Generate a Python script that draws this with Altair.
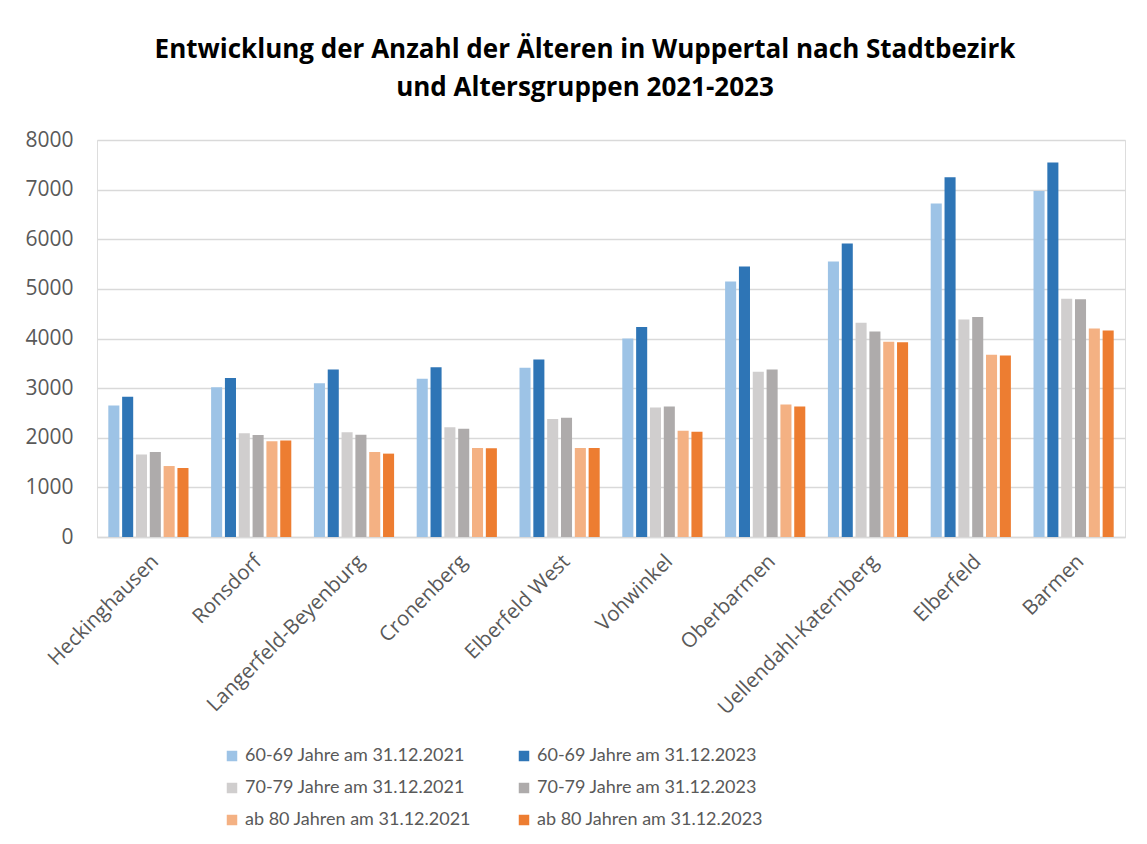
import altair as alt
import pandas as pd

districts = ["Heckinghausen", "Ronsdorf", "Langerfeld-Beyenburg", "Cronenberg",
             "Elberfeld West", "Vohwinkel", "Oberbarmen", "Uellendahl-Katernberg",
             "Elberfeld", "Barmen"]

series = ["60-69 Jahre am 31.12.2021", "60-69 Jahre am 31.12.2023",
          "70-79 Jahre am 31.12.2021", "70-79 Jahre am 31.12.2023",
          "ab 80 Jahren am 31.12.2021", "ab 80 Jahren am 31.12.2023"]

v60_2021 = [2650, 3020, 3100, 3190, 3410, 4000, 5150, 5550, 6720, 6970]
v60_2023 = [2825, 3205, 3375, 3420, 3575, 4230, 5450, 5915, 7250, 7545]
v70_2021 = [1660, 2090, 2110, 2210, 2380, 2610, 3330, 4315, 4385, 4800]
v70_2023 = [1715, 2055, 2060, 2180, 2405, 2630, 3375, 4140, 4435, 4790]
v80_2021 = [1430, 1930, 1715, 1795, 1795, 2140, 2670, 3935, 3675, 4200]
v80_2023 = [1390, 1945, 1680, 1790, 1795, 2120, 2630, 3925, 3655, 4160]

colors = ["#9DC3E6", "#2E75B6", "#D0CECE", "#AEABAB", "#F4B183", "#ED7D31"]

y_ticks = [0, 1000, 2000, 3000, 4000, 5000, 6000, 7000, 8000]

all_values = [v60_2021, v60_2023, v70_2021, v70_2023, v80_2021, v80_2023]
rows = []
for s, vals in zip(series, all_values):
    for d, v in zip(districts, vals):
        rows.append({"Stadtbezirk": d, "Serie": s, "Anzahl": v})
df = pd.DataFrame(rows)

label_font = "Open Sans"
legend_font = "Lato"

chart = alt.Chart(df).mark_bar().encode(
    x=alt.X("Stadtbezirk:N", sort=districts,
            scale=alt.Scale(paddingInner=0.22, paddingOuter=0.11),
            axis=alt.Axis(title=None, labelAngle=-45, labelFontSize=20.5,
                          labelFont=label_font, labelColor="#595959",
                          ticks=False, domainColor="#D9D9D9", domainWidth=1.5,
                          labelPadding=14, labelLimit=400)),
    xOffset=alt.XOffset("Serie:N", sort=series, scale=alt.Scale(paddingInner=0.2)),
    y=alt.Y("Anzahl:Q", scale=alt.Scale(domain=[0, 8000], nice=False),
            axis=alt.Axis(title=None, values=y_ticks, format="d", labelFontSize=21,
                          labelFont=label_font, labelColor="#595959", ticks=False,
                          domain=False, gridColor="#D9D9D9", gridWidth=1.5,
                          labelPadding=24)),
    color=alt.Color("Serie:N", sort=series,
                    scale=alt.Scale(domain=series, range=colors),
                    legend=alt.Legend(title=None, orient="none", legendX=126, legendY=607,
                                      columns=2, direction="horizontal",
                                      columnPadding=43, rowPadding=14,
                                      symbolType="square", symbolSize=110,
                                      symbolStrokeWidth=0,
                                      labelFontSize=18, labelFont=legend_font,
                                      labelColor="#595959", labelLimit=400,
                                      labelOffset=4)),
).properties(
    width=1028,
    height=397,
    title=alt.TitleParams(
        text=["Entwicklung der Anzahl der Älteren in Wuppertal nach Stadtbezirk",
              "und Altersgruppen 2021-2023"],
        font="Open Sans", fontSize=26, fontWeight="bold", color="#000000",
        anchor="middle", dx=-26, offset=28, lineHeight=38),
    autosize="none",
    padding={"left": 89, "top": 132, "right": 14, "bottom": 299},
).configure_view(stroke=None).configure(background="white")

chart.save("out.html", embed_options={"renderer": "svg", "actions": False})
